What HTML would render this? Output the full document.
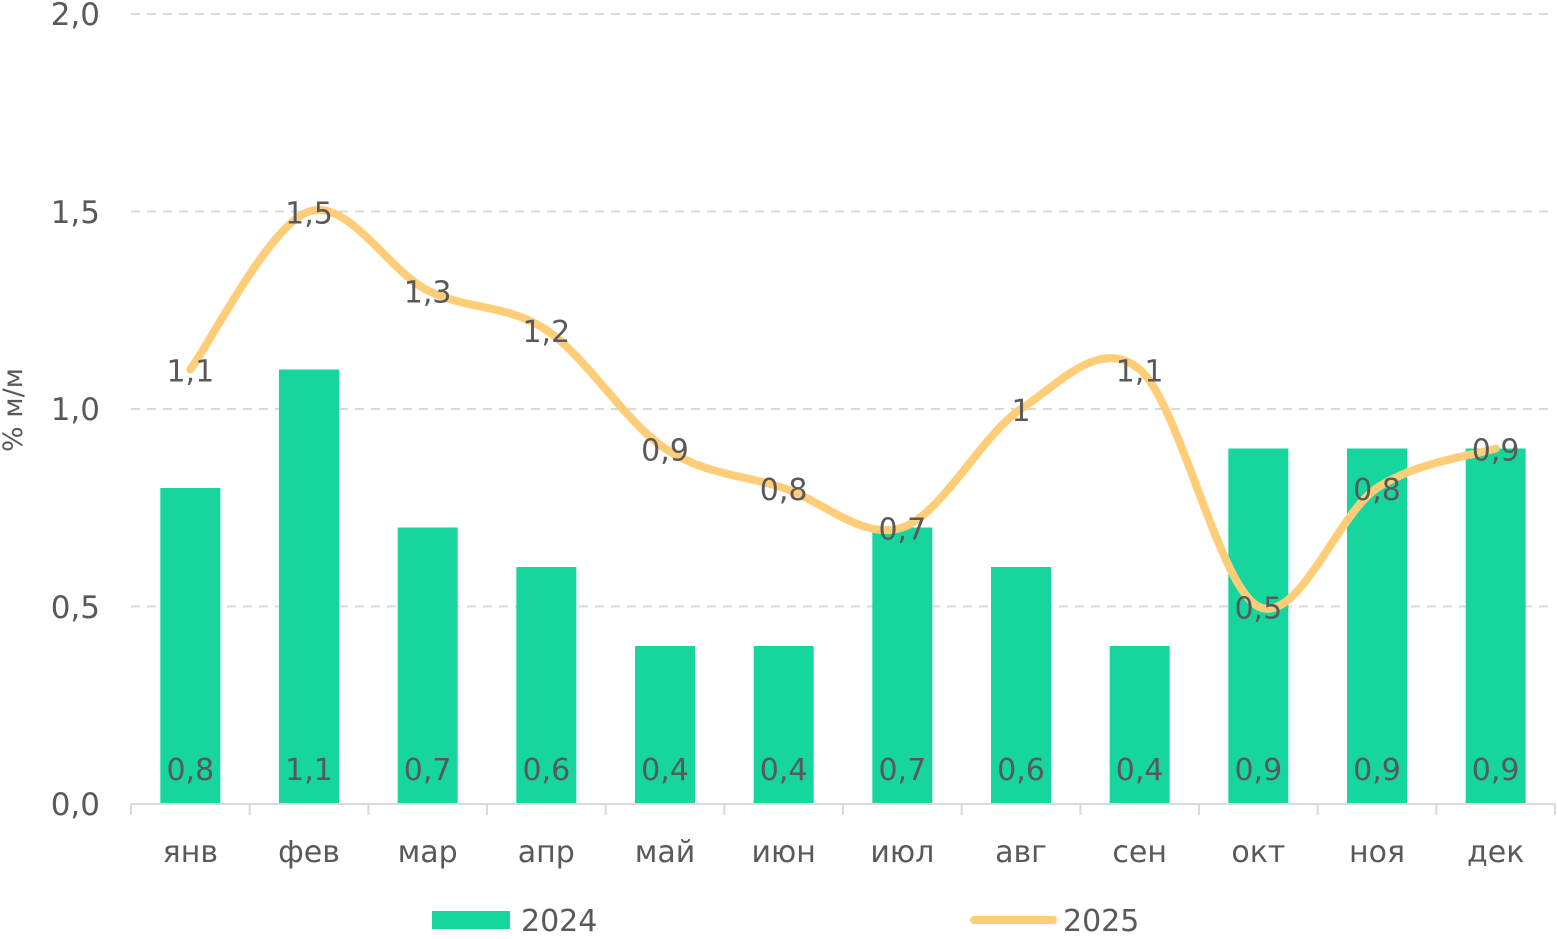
<!DOCTYPE html>
<html><head><meta charset="utf-8"><style>
html,body{margin:0;padding:0;background:#fff;}
svg text{font-family:"DejaVu Sans","Liberation Sans",sans-serif;fill:#595959;}
</style></head><body>
<svg id="s" width="1557" height="934" viewBox="0 0 1557 934" xmlns="http://www.w3.org/2000/svg">
<g stroke="#d9d9d9" stroke-width="2" stroke-dasharray="9,7">
<line x1="131" y1="14" x2="1555" y2="14"/>
<line x1="131" y1="211.5" x2="1555" y2="211.5"/>
<line x1="131" y1="409" x2="1555" y2="409"/>
<line x1="131" y1="606.5" x2="1555" y2="606.5"/>
</g>
<g font-size="31" text-anchor="end" style="fill:#6b6b6b">
<text x="100" y="25">2,0</text>
<text x="100" y="223">1,5</text>
<text x="100" y="420">1,0</text>
<text x="100" y="618">0,5</text>
<text x="100" y="815">0,0</text>
</g>
<text transform="translate(22,410) rotate(-90)" font-size="27" text-anchor="middle">% м/м</text>
<g id="bars" fill="#17d69d"></g>
<g id="axis" stroke="#d9d9d9" stroke-width="2"></g>
<path id="line" fill="none" stroke="#ffcc77" stroke-width="8" stroke-linecap="round"/>
<g id="labels" font-size="30" text-anchor="middle"></g>
<rect x="432" y="911" width="78" height="18" fill="#17d69d"/>
<text x="521" y="931" font-size="30">2024</text>
<line x1="974" y1="920" x2="1053" y2="920" stroke="#ffcc77" stroke-width="8" stroke-linecap="round"/>
<text x="1063" y="931" font-size="30">2025</text>
</svg>
<script>
var NS="http://www.w3.org/2000/svg";
function el(t,a,p,txt){var e=document.createElementNS(NS,t);for(var k in a)e.setAttribute(k,a[k]);if(txt)e.textContent=txt;document.getElementById(p).appendChild(e);}
var m=["янв","фев","мар","апр","май","июн","июл","авг","сен","окт","ноя","дек"];
var b=[0.8,1.1,0.7,0.6,0.4,0.4,0.7,0.6,0.4,0.9,0.9,0.9];
var l=[1.1,1.5,1.3,1.2,0.9,0.8,0.7,1,1.1,0.5,0.8,0.9];
var x0=131,w=(1555-131)/12;function Y(v){return 804-v*395;}
el("line",{x1:131,y1:804,x2:1555,y2:804},"axis");
for(var i=0;i<=12;i++)el("line",{x1:x0+i*w,y1:804,x2:x0+i*w,y2:815},"axis");
var pts=[];
for(var i=0;i<12;i++){var c=x0+w*(i+0.5);
el("rect",{x:c-30,y:Y(b[i]),width:60,height:804-Y(b[i])},"bars");
el("text",{x:c,y:862},"labels",m[i]);
el("text",{x:c,y:780},"labels",b[i].toString().replace(".",","));
pts.push([c,Y(l[i])]);}
var d="M"+pts[0][0]+","+pts[0][1];
for(var i=0;i<11;i++){var p0=pts[Math.max(0,i-1)],p1=pts[i],p2=pts[i+1],p3=pts[Math.min(11,i+2)];
var t=1/6;
d+=" C"+(p1[0]+(p2[0]-p0[0])*t)+","+(p1[1]+(p2[1]-p0[1])*t)+" "+(p2[0]-(p3[0]-p1[0])*t)+","+(p2[1]-(p3[1]-p1[1])*t)+" "+p2[0]+","+p2[1];}
document.getElementById("line").setAttribute("d",d);
for(var i=0;i<12;i++){var s=l[i].toString().replace(".",",");el("text",{x:pts[i][0],y:pts[i][1]+12},"labels",s);}
</script>
</body></html>
